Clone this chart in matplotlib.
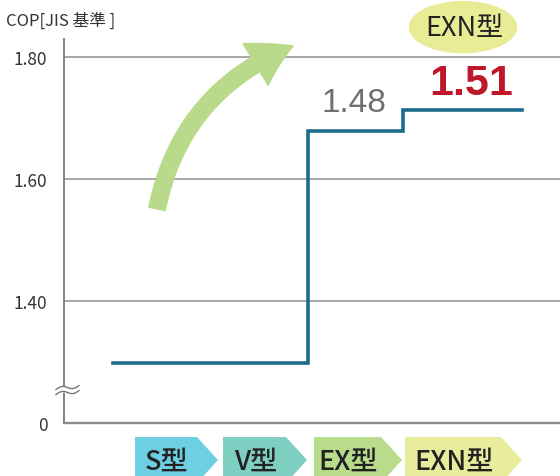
import numpy as np
import matplotlib.pyplot as plt
import matplotlib.transforms as mtransforms
from matplotlib.patches import Polygon, Ellipse, FancyArrowPatch

plt.rcParams['font.family'] = ['Noto Sans CJK JP', 'DejaVu Sans']

# stage chevrons under the axis (x in axis units)
stages = ["S型", "V型", "EX型", "EXN型"]
stage_left = [135, 223, 314, 405]
stage_right = [218, 307, 402, 522]
stage_colors = ["#6fcfe2", "#7ecfc2", "#b8db8c", "#e9ec9c"]

# COP step line
step_x = [113, 308, 403, 522]
step_y = [1.298, 1.679, 1.713, 1.713]

ytick_vals = [1.20, 1.40, 1.60, 1.80]
ytick_labels = ["0", "1.40", "1.60", "1.80"]
grid_vals = [1.40, 1.60, 1.80]

old_label = "1.48"
new_label = "1.51"
badge_label = "EXN型"

fig = plt.figure(figsize=(5.6, 4.77), dpi=100)
ax = fig.add_axes([0.1143, 0.1111, 0.8857, 0.805])
ax.set_xlim(64, 560)
ax.set_ylim(1.20, 1.8295)

for s in ['top', 'right']:
    ax.spines[s].set_visible(False)
ax.spines['left'].set_color('#777777')
ax.spines['left'].set_linewidth(1.3)
ax.spines['bottom'].set_color('#8a8a8a')
ax.spines['bottom'].set_linewidth(1.7)

ax.set_xticks([])
ax.set_yticks(ytick_vals, ytick_labels)
ax.tick_params(axis='y', length=0, pad=12, labelsize=12.5, labelcolor='#333333')

for g in grid_vals:
    ax.axhline(g, color='#a8a8a8', lw=1.4, zorder=1)

# big green arrow
arrow = FancyArrowPatch((157, 1.551), (293, 1.818),
                        connectionstyle='arc3,rad=-0.27',
                        arrowstyle='simple,head_length=30,head_width=35,tail_width=12',
                        mutation_scale=1, color='#b8da8a',
                        shrinkA=0, shrinkB=0, zorder=2, clip_on=False)
ax.add_patch(arrow)

ax.plot(step_x, step_y, drawstyle='steps-post', color='#1b6c8d', lw=2.6,
        zorder=4, solid_joinstyle='miter')

ax.text(354, 1.725, old_label, ha='center', va='center', fontsize=24,
        color='#707070', family=['Liberation Sans'])
ax.text(471.5, 1.757, new_label, ha='center', va='center', fontsize=31,
        fontweight='bold', color='#c0182b', family=['Liberation Sans'])

ax.add_patch(Ellipse((463, 1.849), 107, 0.0836, color='#e8ec95',
                     clip_on=False, zorder=3))
ax.text(464, 1.849, badge_label, ha='center', va='center', fontsize=19.5,
        color='#222222', zorder=4)

# chevrons
trans = mtransforms.blended_transform_factory(ax.transData, ax.transAxes)
top, mid, bot = -0.0365, -0.0964, -0.1563
tip = 21
for name, l, r, c in zip(stages, stage_left, stage_right, stage_colors):
    poly = Polygon([(l, top), (r - tip, top), (r, mid), (r - tip, bot), (l, bot)],
                   closed=True, transform=trans, color=c, clip_on=False, lw=0)
    ax.add_patch(poly)
    ax.text((l + r - tip) / 2 + 1, -0.099, name, transform=trans, ha='center',
            va='center', fontsize=19.5, fontweight='medium', color='#222222')

# axis break mark
bx = np.linspace(56, 79, 50)
px = 0.2 / 122
base = 1.2508 + (bx - 56) / 23 * 4 * px
wave = 2 * px * np.sin((bx - 56) / 23 * 2 * np.pi)
lo = base + wave - 2.5 * px
hi = base + wave + 2.5 * px
ax.fill_between(bx, lo, hi, color='white', zorder=5, clip_on=False)
ax.plot(bx, lo, color='#777777', lw=1, zorder=6, clip_on=False)
ax.plot(bx, hi, color='#777777', lw=1, zorder=6, clip_on=False)

fig.text(6 / 560, 1 - 21 / 477, "COP[JIS 基準 ]", ha='left', va='center',
         fontsize=12, color='#333333')

fig.savefig('out.png', dpi=100)
